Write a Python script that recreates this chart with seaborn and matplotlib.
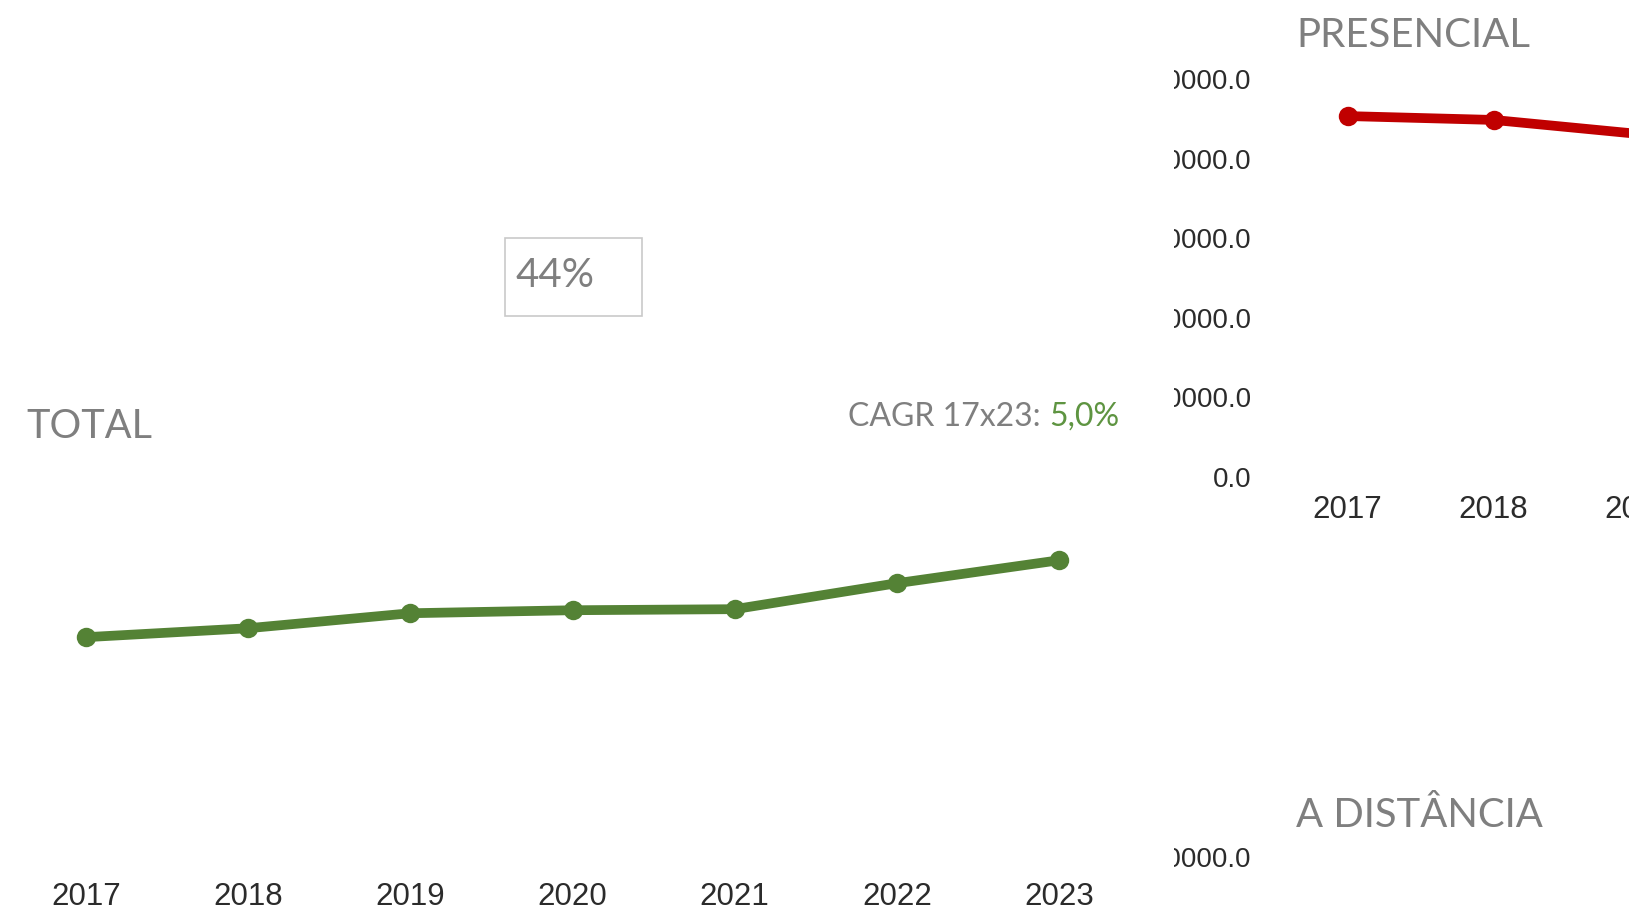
import matplotlib
matplotlib.use("Agg")
import matplotlib.pyplot as plt
from matplotlib.patches import Rectangle
import seaborn as sns
import pandas as pd

# ==========================================
# DATA
# ==========================================

years_total = [2017, 2018, 2019, 2020, 2021, 2022, 2023]
total_values = [3226000, 3354000, 3568000, 3611000, 3626000, 3997000, 4325000]

years_presencial = [2017, 2018, 2019]
presencial_values = [1587000, 1570000, 1508000]

right_yticks = [0, 350000, 700000, 1050000, 1400000, 1750000]
right_ytick_labels = ["%.1f" % v for v in right_yticks]

cagr_label = "CAGR 17x23: "
cagr_value = "5,0%"
share_label = "44%"

GREEN = "#548235"
GREEN_TXT = "#5e9441"
RED = "#c00000"
GRAY = "#7f7f7f"
TICK = "#2b2b2b"

W, H = 1629, 915

# ==========================================
# FIGURE
# ==========================================

sns.set_theme(style="white")
plt.rcParams["font.family"] = ["Liberation Sans", "DejaVu Sans"]

fig = plt.figure(figsize=(W / 100, H / 100), dpi=100)


def px_box(left, top, right, bottom):
    return [left / W, (H - bottom) / H, (right - left) / W, (bottom - top) / H]


def clean(ax):
    sns.despine(ax=ax, left=True, bottom=True)
    ax.set_xlabel("")
    ax.set_ylabel("")
    ax.tick_params(length=0)


# ---------- PRESENCIAL (right top) ----------
ax_pres = fig.add_axes(px_box(1260, 79, 1260 + 7.2 * 146, 477), zorder=0)
sns.lineplot(x=years_presencial, y=presencial_values, ax=ax_pres, color=RED,
             linewidth=7, marker="o", markersize=14, markeredgewidth=0)
ax_pres.set_xlim(2016.4, 2023.6)
ax_pres.set_ylim(0, right_yticks[-1])
ax_pres.set_xticks(years_total)
ax_pres.set_xticklabels([str(y) for y in years_total])
ax_pres.set_yticks(right_yticks)
ax_pres.set_yticklabels(right_ytick_labels)
clean(ax_pres)
ax_pres.tick_params(axis="x", labelsize=22.5, labelcolor=TICK, pad=13)
ax_pres.tick_params(axis="y", labelsize=20, labelcolor=TICK, pad=6)

# ---------- A DISTANCIA (right bottom, mostly off the slide) ----------
ax_dist = fig.add_axes(px_box(1260, 857, 1260 + 7.2 * 146, 857 + 398), zorder=0)
ax_dist.set_xlim(2016.4, 2023.6)
ax_dist.set_ylim(0, right_yticks[-1])
ax_dist.set_xticks([])
ax_dist.set_yticks(right_yticks)
ax_dist.set_yticklabels(right_ytick_labels)
clean(ax_dist)
ax_dist.tick_params(axis="y", labelsize=20, labelcolor=TICK, pad=6)

# white panel of the left block hides the start of the right tick labels
fig.patches.append(Rectangle((0, 0), 1174 / W, 1, transform=fig.transFigure,
                             facecolor="white", edgecolor="none", zorder=1))

# ---------- TOTAL (left) ----------
ax_tot = fig.add_axes(px_box(30, 443, 1115, 863), zorder=2)
ax_tot.patch.set_alpha(0)
df_total = pd.DataFrame({"ano": years_total, "valor": total_values})
sns.lineplot(data=df_total, x="ano", y="valor", ax=ax_tot, color=GREEN,
             linewidth=7, marker="o", markersize=14, markeredgewidth=0)
ax_tot.set_xlim(2016.655, 2023.345)
ax_tot.set_ylim(0, 6000000)
ax_tot.set_xticks(years_total)
ax_tot.set_xticklabels([str(y) for y in years_total])
ax_tot.set_yticks([])
clean(ax_tot)
ax_tot.tick_params(axis="x", labelsize=22.5, labelcolor=TICK, pad=14)

# ==========================================
# TEXTS
# ==========================================

fig.text(26 / W, (H - 438) / H, "TOTAL", family="Lato", fontsize=28.5,
         color=GRAY, va="baseline", ha="left", zorder=4)
fig.text(1296 / W, (H - 47) / H, "PRESENCIAL", family="Lato", fontsize=29,
         color=GRAY, va="baseline", ha="left", zorder=4)
fig.text(1296 / W, (H - 827) / H, "A DISTÂNCIA", family="Lato", fontsize=28.8,
         color=GRAY, va="baseline", ha="left", zorder=4)

val_txt = fig.text(1119 / W, (H - 426) / H, cagr_value, family="Lato",
                   fontsize=23, color=GREEN_TXT, va="baseline", ha="right", zorder=4)
ax_tot.annotate(cagr_label, xy=(0, 0), xycoords=val_txt, family="Lato",
                fontsize=23, color=GRAY, va="bottom", ha="right")

fig.patches.append(Rectangle((505 / W, (H - 316) / H), 137 / W, 78 / H,
                             transform=fig.transFigure, facecolor="white",
                             edgecolor="#c9c9c9", linewidth=1.2, zorder=3))
fig.text(515 / W, (H - 287) / H, share_label, family="Lato", fontsize=29,
         color=GRAY, va="baseline", ha="left", zorder=4)

plt.savefig("out.png", dpi=100)
